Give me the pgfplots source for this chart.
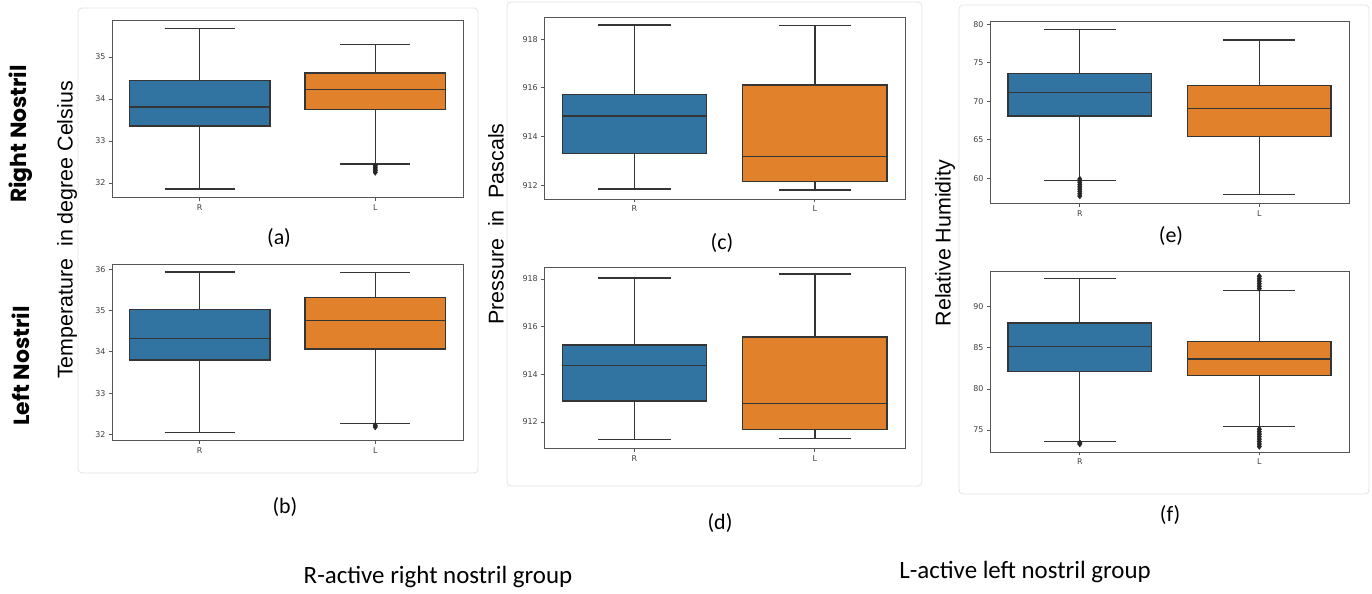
\documentclass[border=0pt]{standalone}
\usepackage{fontspec}
\setmainfont{Liberation Sans}
\newfontfamily\tickfont{DejaVu Sans}
\newfontfamily\calfont{Carlito}
\newfontfamily\popfont{Poppins}
\usepackage{pgfplots}
\pgfplotsset{compat=1.18}
\definecolor{sbblue}{HTML}{3274A1}
\definecolor{sborange}{HTML}{E1812C}
\definecolor{edge}{HTML}{353535}
\definecolor{axgray}{HTML}{555555}
\definecolor{framegray}{HTML}{E2E2E2}
\pgfplotsset{
  panel/.style={scale only axis, anchor=south west, xmin=-0.5, xmax=1.5,
    xtick={0,1}, xticklabels={R,L}, xtick pos=lower, ytick pos=left,
    tick align=outside, major tick length=3bp,
    tick style={axgray, line width=0.7bp},
    axis line style={axgray, line width=1bp},
    ticklabel style={font=\tickfont\fontsize{8}{8}\selectfont, text=black!75},
    yticklabel style={/pgf/number format/.cd, fixed, precision=0},
    /pgf/number format/assume math mode=true},
  ln/.style={edge, line width=1.4bp, mark=none, solid, line join=miter},
  fl/.style={only marks, mark=diamond*, mark size=3bp, color=black!85, mark options={solid}},
}
% box at x=0 (R): fill, lower whisker, Q1, median, Q3, upper whisker
\newcommand{\bxR}[6]{%
 \addplot[ln] coordinates {(0,#3) (0,#2)};
 \addplot[ln] coordinates {(0,#5) (0,#6)};
 \addplot[ln] coordinates {(-0.2,#2) (0.2,#2)};
 \addplot[ln] coordinates {(-0.2,#6) (0.2,#6)};
 \addplot[ln, fill=#1] coordinates {(-0.4,#3) (0.4,#3) (0.4,#5) (-0.4,#5)} -- cycle;
 \addplot[ln] coordinates {(-0.4,#4) (0.4,#4)};}
% box at x=1 (L)
\newcommand{\bxL}[6]{%
 \addplot[ln] coordinates {(1,#3) (1,#2)};
 \addplot[ln] coordinates {(1,#5) (1,#6)};
 \addplot[ln] coordinates {(0.8,#2) (1.2,#2)};
 \addplot[ln] coordinates {(0.8,#6) (1.2,#6)};
 \addplot[ln, fill=#1] coordinates {(0.6,#3) (1.4,#3) (1.4,#5) (0.6,#5)} -- cycle;
 \addplot[ln] coordinates {(0.6,#4) (1.4,#4)};}
\begin{document}
\begin{tikzpicture}[x=1bp,y=1bp]
\path[use as bounding box] (0,0) rectangle (1372,594);
% faint panel frames
\draw[framegray, rounded corners=4bp, line width=0.8bp] (78,121) rectangle (478,586);
\draw[framegray, rounded corners=4bp, line width=0.8bp] (507,108) rectangle (922,592);
\draw[framegray, rounded corners=4bp, line width=0.8bp] (959,100) rectangle (1369,589);

% (a)
\begin{axis}[panel, at={(112bp,396bp)}, width=351bp, height=177bp,
  ymin=31.64, ymax=35.86, ytick={32,33,34,35}]
\bxR{sbblue}{31.85}{33.36}{33.81}{34.44}{35.68}
\bxL{sborange}{32.45}{33.75}{34.23}{34.62}{35.30}
\addplot[fl] coordinates {(1,32.25) (1,32.29) (1,32.33) (1,32.37) (1,32.41)};
\end{axis}

% (b)
\begin{axis}[panel, at={(112bp,153bp)}, width=351bp, height=176.3bp,
  ymin=31.84, ymax=36.11, ytick={32,33,34,35,36}]
\bxR{sbblue}{32.04}{33.80}{34.32}{35.03}{35.93}
\bxL{sborange}{32.27}{34.07}{34.76}{35.31}{35.92}
\addplot[fl] coordinates {(1,32.18) (1,32.22)};
\end{axis}

% (c)
\begin{axis}[panel, at={(544.3bp,394.7bp)}, width=360.7bp, height=182bp,
  ymin=911.42, ymax=918.9, ytick={912,914,916,918}]
\bxR{sbblue}{911.84}{913.30}{914.85}{915.72}{918.59}
\bxL{sborange}{911.80}{912.15}{913.19}{916.11}{918.55}
\end{axis}

% (d)
\begin{axis}[panel, at={(544.3bp,145.3bp)}, width=360.7bp, height=181bp,
  ymin=910.88, ymax=918.47, ytick={912,914,916,918}]
\bxR{sbblue}{911.27}{912.88}{914.36}{915.22}{918.04}
\bxL{sborange}{911.31}{911.69}{912.78}{915.57}{918.20}
\end{axis}

% (e)
\begin{axis}[panel, at={(990bp,390bp)}, width=359bp, height=182bp,
  ymin=56.66, ymax=80.3, ytick={60,65,70,75,80}]
\bxR{sbblue}{59.74}{68.09}{71.13}{73.57}{79.3}
\bxL{sborange}{57.92}{65.43}{69.05}{72.08}{77.96}
\addplot[fl] coordinates {(0,57.7) (0,58.0) (0,58.3) (0,58.6) (0,58.9) (0,59.2) (0,59.5) (0,59.9)};
\end{axis}

% (f)
\begin{axis}[panel, at={(990bp,141.7bp)}, width=359bp, height=180.3bp,
  ymin=72.29, ymax=94.22, ytick={75,80,85,90}]
\bxR{sbblue}{73.58}{82.13}{85.17}{88.02}{93.4}
\bxL{sborange}{75.4}{81.6}{83.63}{85.73}{92.0}
\addplot[fl] coordinates {(0,73.3) (0,73.45)};
\addplot[fl] coordinates {(1,92.2) (1,92.5) (1,92.8) (1,93.1) (1,93.4) (1,93.7)
  (1,73.0) (1,73.3) (1,73.6) (1,73.9) (1,74.2) (1,74.5) (1,74.8) (1,75.1)};
\end{axis}

% labels
\node[rotate=90, font=\popfont\bfseries\fontsize{22}{22}\selectfont] at (21,460) {Right Nostril};
\node[rotate=90, font=\popfont\bfseries\fontsize{22}{22}\selectfont] at (21,228) {Left Nostril};
\node[rotate=90, font=\fontsize{21.5}{21.5}\selectfont] at (67,364) {Temperature\ \ in degree Celsius};
\node[rotate=90, font=\fontsize{21.5}{21.5}\selectfont] at (496,370) {Pressure\ \ in\ \ Pascals};
\node[rotate=90, font=\fontsize{21.5}{21.5}\selectfont] at (945,351) {Relative Humidity};

\begin{scope}[every node/.style={font=\calfont\fontsize{22}{22}\selectfont}]
\node at (279,356) {(a)};
\node at (285,87) {(b)};
\node at (722,351) {(c)};
\node at (720,71) {(d)};
\node at (1171,358) {(e)};
\node at (1170,79) {(f)};
\end{scope}
\node[font=\calfont\fontsize{25}{25}\selectfont] at (438,17) {R-active right nostril group};
\node[font=\calfont\fontsize{25}{25}\selectfont] at (1025,22) {L-active left nostril group};
\end{tikzpicture}
\end{document}
